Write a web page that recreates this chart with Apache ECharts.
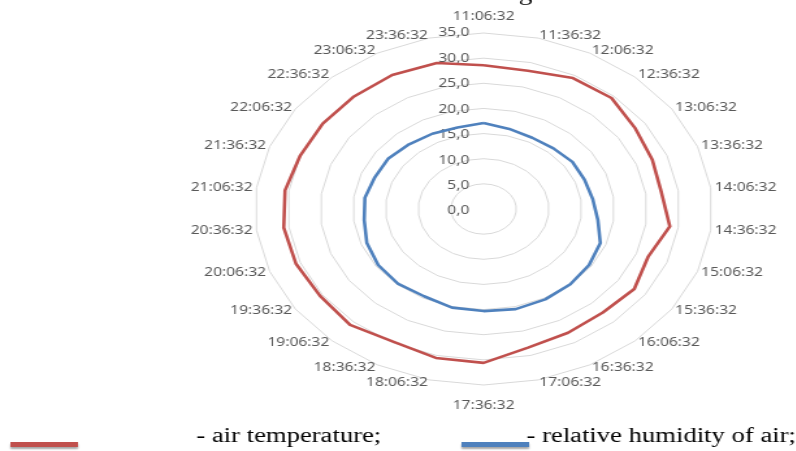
<!DOCTYPE html>
<html>
<head>
<meta charset="utf-8">
<script src="https://cdn.jsdelivr.net/npm/echarts@6/dist/echarts.min.js"></script>
<style>
  html, body { margin: 0; padding: 0; background: #fff; }
  #wrap { position: relative; width: 796px; height: 451px; overflow: hidden; }
  /* the whole picture is stretched sideways (about 1.3x), so the chart div is too */
  #chart { position: absolute; left: 0; top: 0; width: 612px; height: 451px;
           transform: scaleX(1.3); transform-origin: 0 0; }
</style>
</head>
<body>
<div id="wrap">
  <div id="chart"></div>
</div>
<script>
// categories, clockwise from the top
var times = ['11:06:32', '11:36:32', '12:06:32', '12:36:32', '13:06:32', '13:36:32',
  '14:06:32', '14:36:32', '15:06:32', '15:36:32', '16:06:32', '16:36:32', '17:06:32',
  '17:36:32', '18:06:32', '18:36:32', '19:06:32', '19:36:32', '20:06:32', '20:36:32',
  '21:06:32', '21:36:32', '22:06:32', '22:36:32', '23:06:32', '23:36:32'];

var airTemp = [28.6, 28.3, 29.4, 29.5, 28.2, 27.6, 27.4, 28.7, 26.9, 28.0, 27.5, 27.8, 28.4,
  30.6, 30.5, 29.8, 30.8, 30.4, 30.7, 30.8, 30.6, 30.0, 29.9, 29.9, 30.1, 29.9];

var humidity = [17.1, 16.4, 16.0, 16.1, 16.5, 16.5, 16.8, 17.6, 19.1, 19.6, 20.0, 20.3, 20.5,
  20.3, 20.2, 19.6, 19.8, 19.6, 19.1, 18.4, 18.3, 17.8, 17.7, 17.2, 16.9, 16.7];

var axisMax = 35
var axisStep = 5

var names = ['- air temperature;', '- relative humidity of air;']
var colors = ['#c0504d', '#4f81bd']

// echarts lays radar axes out counter-clockwise, excel clockwise
function cw(arr) {
  return [arr[0]].concat(arr.slice(1).reverse())
}

// legend: line swatch and text are placed apart, like in the document
var swatchStyle = { shadowColor: 'rgba(0,0,0,0.35)', shadowOffsetY: 2, shadowBlur: 2 }
function swatch(i, left, width) {
  return {
    data: [{ name: names[i], icon: 'rect' }],
    left: left, top: 442, padding: 0,
    itemWidth: width, itemHeight: 5,
    itemStyle: swatchStyle,
    formatter: function () { return '' },
    textStyle: { fontSize: 1, lineHeight: 1 }
  }
}
function legendLabel(i, left) {
  return {
    data: [{ name: names[i], icon: 'none' }],
    left: left, top: 426, padding: 0,
    itemWidth: 0, itemHeight: 0,
    textStyle: { fontFamily: 'Liberation Serif', fontSize: 20.5, lineHeight: 22, color: '#000' }
  }
}

var chart = echarts.init(document.getElementById('chart'), null, { width: 612, height: 451 });
chart.setOption({
  animation: false,
  // the title is cut off by the top edge of the picture
  title: {
    text: 'Parameters at watering time',
    left: 217,
    top: -16,
    padding: 0,
    textStyle: { fontFamily: 'Liberation Serif', fontSize: 21, fontWeight: 'normal', color: '#000' }
  },
  legend: [
    swatch(0, 8, 52),
    legendLabel(0, 146),
    swatch(1, 355, 52),
    legendLabel(1, 400)
  ],
  radar: {
    center: [372, 209],
    radius: 176,
    startAngle: 90,
    shape: 'polygon',
    splitNumber: axisMax / axisStep,
    indicator: cw(times).map(function (t) { return { name: t, min: 0, max: axisMax } }),
    nameGap: 3,
    axisName: {
      color: '#595959',
      fontSize: 12,
      fontFamily: 'Noto Sans',
      padding: [12, 0, 7, 0]
    },
    axisLine: { show: false },
    axisTick: { show: false },
    splitArea: { show: false },
    splitLine: { lineStyle: { color: '#d9d9d9', width: 1 } }
  },
  // only here for the value labels up the 11:06:32 axis
  polar: {
    center: [372, 211],
    radius: 178
  },
  angleAxis: {
    type: 'value',
    startAngle: 90,
    show: false
  },
  radiusAxis: {
    type: 'value',
    min: 0,
    max: axisMax,
    interval: axisStep,
    axisLine: { show: false },
    axisTick: { show: false },
    splitLine: { show: false },
    axisLabel: {
      color: '#595959',
      fontSize: 12,
      fontFamily: 'Noto Sans',
      margin: 11,
      formatter: function (v) { return v.toFixed(1).replace('.', ',') }
    }
  },
  series: [{
    type: 'radar',
    symbol: 'none',
    data: [
      { name: names[0], value: cw(airTemp), itemStyle: { color: colors[0] }, lineStyle: { color: colors[0], width: 2.6 } },
      { name: names[1], value: cw(humidity), itemStyle: { color: colors[1] }, lineStyle: { color: colors[1], width: 2.6 } }
    ]
  }]
});
</script>
</body>
</html>
